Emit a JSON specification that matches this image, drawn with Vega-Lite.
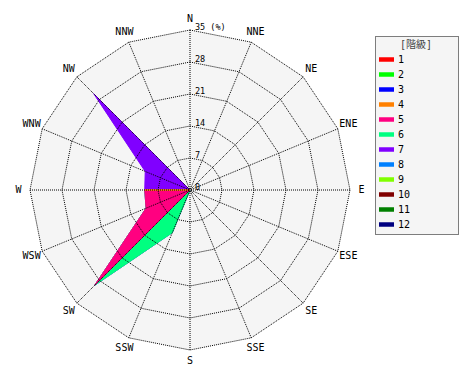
{
  "$schema": "https://vega.github.io/schema/vega-lite/v6.json",
  "width": 320,
  "height": 320,
  "autosize": {"type": "none"},
  "padding": {"left": 30, "top": 30, "right": 120, "bottom": 30},
  "background": "#ffffff",
  "config": {
    "view": {"stroke": null},
    "legend": {
      "orient": "none",
      "legendX": 345,
      "legendY": 6,
      "padding": 4,
      "strokeColor": "#000000",
      "strokeDash": [1, 1],
      "fillColor": "#f5f5f5",
      "titleFont": "DejaVu Sans Mono, Noto Sans CJK JP",
      "titleFontSize": 10,
      "titleFontWeight": "normal",
      "titleColor": "#444444",
      "titlePadding": 2,
      "labelFont": "DejaVu Sans Mono",
      "labelFontSize": 10,
      "labelColor": "#000000",
      "labelOffset": 4,
      "symbolType": "M-1,-0.3H1V0.3H-1Z",
      "symbolSize": 225,
      "symbolStrokeWidth": 0,
      "symbolOpacity": 1,
      "rowPadding": 2
    }
  },
  "datasets": {
    "dirs": [
      {"dir": "N", "deg": 0}, {"dir": "NNE", "deg": 22.5}, {"dir": "NE", "deg": 45}, {"dir": "ENE", "deg": 67.5},
      {"dir": "E", "deg": 90}, {"dir": "ESE", "deg": 112.5}, {"dir": "SE", "deg": 135}, {"dir": "SSE", "deg": 157.5},
      {"dir": "S", "deg": 180}, {"dir": "SSW", "deg": 202.5}, {"dir": "SW", "deg": 225}, {"dir": "WSW", "deg": 247.5},
      {"dir": "W", "deg": 270}, {"dir": "WNW", "deg": 292.5}, {"dir": "NW", "deg": 315}, {"dir": "NNW", "deg": 337.5}
    ],
    "rings": [
      {"r": 7, "deg": [0, 22.5, 45, 67.5, 90, 112.5, 135, 157.5, 180, 202.5, 225, 247.5, 270, 292.5, 315, 337.5]},
      {"r": 14, "deg": [0, 22.5, 45, 67.5, 90, 112.5, 135, 157.5, 180, 202.5, 225, 247.5, 270, 292.5, 315, 337.5]},
      {"r": 21, "deg": [0, 22.5, 45, 67.5, 90, 112.5, 135, 157.5, 180, 202.5, 225, 247.5, 270, 292.5, 315, 337.5]},
      {"r": 28, "deg": [0, 22.5, 45, 67.5, 90, 112.5, 135, 157.5, 180, 202.5, 225, 247.5, 270, 292.5, 315, 337.5]},
      {"r": 35, "deg": [0, 22.5, 45, 67.5, 90, 112.5, 135, 157.5, 180, 202.5, 225, 247.5, 270, 292.5, 315, 337.5]}
    ],
    "ticks": [
      {"r": 0, "t": "0"}, {"r": 7, "t": "7"}, {"r": 14, "t": "14"}, {"r": 21, "t": "21"}, {"r": 28, "t": "28"}, {"r": 35, "t": "35 (%)"}
    ],
    "wind": [
      {"dir": "N", "deg": 0, "cls": 4, "pct": 0}, {"dir": "NNE", "deg": 22.5, "cls": 4, "pct": 0},
      {"dir": "NE", "deg": 45, "cls": 4, "pct": 0}, {"dir": "ENE", "deg": 67.5, "cls": 4, "pct": 0},
      {"dir": "E", "deg": 90, "cls": 4, "pct": 0}, {"dir": "ESE", "deg": 112.5, "cls": 4, "pct": 0},
      {"dir": "SE", "deg": 135, "cls": 4, "pct": 0}, {"dir": "SSE", "deg": 157.5, "cls": 4, "pct": 0},
      {"dir": "S", "deg": 180, "cls": 4, "pct": 0}, {"dir": "SSW", "deg": 202.5, "cls": 4, "pct": 0},
      {"dir": "SW", "deg": 225, "cls": 4, "pct": 0}, {"dir": "WSW", "deg": 247.5, "cls": 4, "pct": 0},
      {"dir": "W", "deg": 270, "cls": 4, "pct": 9.9}, {"dir": "WNW", "deg": 292.5, "cls": 4, "pct": 0},
      {"dir": "NW", "deg": 315, "cls": 4, "pct": 0}, {"dir": "NNW", "deg": 337.5, "cls": 4, "pct": 0},

      {"dir": "N", "deg": 0, "cls": 5, "pct": 0}, {"dir": "NNE", "deg": 22.5, "cls": 5, "pct": 0},
      {"dir": "NE", "deg": 45, "cls": 5, "pct": 0}, {"dir": "ENE", "deg": 67.5, "cls": 5, "pct": 0},
      {"dir": "E", "deg": 90, "cls": 5, "pct": 0}, {"dir": "ESE", "deg": 112.5, "cls": 5, "pct": 0},
      {"dir": "SE", "deg": 135, "cls": 5, "pct": 0}, {"dir": "SSE", "deg": 157.5, "cls": 5, "pct": 0},
      {"dir": "S", "deg": 180, "cls": 5, "pct": 0}, {"dir": "SSW", "deg": 202.5, "cls": 5, "pct": 0},
      {"dir": "SW", "deg": 225, "cls": 5, "pct": 29.5}, {"dir": "WSW", "deg": 247.5, "cls": 5, "pct": 10.4},
      {"dir": "W", "deg": 270, "cls": 5, "pct": 0}, {"dir": "WNW", "deg": 292.5, "cls": 5, "pct": 0},
      {"dir": "NW", "deg": 315, "cls": 5, "pct": 0}, {"dir": "NNW", "deg": 337.5, "cls": 5, "pct": 0},

      {"dir": "N", "deg": 0, "cls": 6, "pct": 0}, {"dir": "NNE", "deg": 22.5, "cls": 6, "pct": 0},
      {"dir": "NE", "deg": 45, "cls": 6, "pct": 0}, {"dir": "ENE", "deg": 67.5, "cls": 6, "pct": 0},
      {"dir": "E", "deg": 90, "cls": 6, "pct": 0}, {"dir": "ESE", "deg": 112.5, "cls": 6, "pct": 0},
      {"dir": "SE", "deg": 135, "cls": 6, "pct": 0}, {"dir": "SSE", "deg": 157.5, "cls": 6, "pct": 0},
      {"dir": "S", "deg": 180, "cls": 6, "pct": 0}, {"dir": "SSW", "deg": 202.5, "cls": 6, "pct": 10.1},
      {"dir": "SW", "deg": 225, "cls": 6, "pct": 0}, {"dir": "WSW", "deg": 247.5, "cls": 6, "pct": 0},
      {"dir": "W", "deg": 270, "cls": 6, "pct": 0}, {"dir": "WNW", "deg": 292.5, "cls": 6, "pct": 0},
      {"dir": "NW", "deg": 315, "cls": 6, "pct": 0}, {"dir": "NNW", "deg": 337.5, "cls": 6, "pct": 0},

      {"dir": "N", "deg": 0, "cls": 7, "pct": 0}, {"dir": "NNE", "deg": 22.5, "cls": 7, "pct": 0},
      {"dir": "NE", "deg": 45, "cls": 7, "pct": 0}, {"dir": "ENE", "deg": 67.5, "cls": 7, "pct": 0},
      {"dir": "E", "deg": 90, "cls": 7, "pct": 0}, {"dir": "ESE", "deg": 112.5, "cls": 7, "pct": 0},
      {"dir": "SE", "deg": 135, "cls": 7, "pct": 0}, {"dir": "SSE", "deg": 157.5, "cls": 7, "pct": 0},
      {"dir": "S", "deg": 180, "cls": 7, "pct": 0}, {"dir": "SSW", "deg": 202.5, "cls": 7, "pct": 0},
      {"dir": "SW", "deg": 225, "cls": 7, "pct": 0}, {"dir": "WSW", "deg": 247.5, "cls": 7, "pct": 0},
      {"dir": "W", "deg": 270, "cls": 7, "pct": 0}, {"dir": "WNW", "deg": 292.5, "cls": 7, "pct": 10.6},
      {"dir": "NW", "deg": 315, "cls": 7, "pct": 29.8}, {"dir": "NNW", "deg": 337.5, "cls": 7, "pct": 0}
    ]
  },
  "layer": [
    {
      "data": {"name": "rings"},
      "transform": [
        {"filter": "datum.r == 35"},
        {"flatten": ["deg"]},
        {"calculate": "datum.r * sin(datum.deg * PI / 180)", "as": "x"},
        {"calculate": "datum.r * cos(datum.deg * PI / 180)", "as": "y"}
      ],
      "mark": {"type": "line", "interpolate": "linear-closed", "fill": "#f5f5f5", "stroke": null, "strokeWidth": 0},
      "encoding": {
        "x": {"field": "x", "type": "quantitative", "scale": {"domain": [-35, 35], "nice": false, "zero": false}, "axis": null},
        "y": {"field": "y", "type": "quantitative", "scale": {"domain": [-35, 35], "nice": false, "zero": false}, "axis": null},
        "order": {"field": "deg", "type": "quantitative"}
      }
    },
    {
      "data": {"name": "wind"},
      "transform": [
        {"window": [{"op": "sum", "field": "pct", "as": "cum"}], "groupby": ["deg"], "sort": [{"field": "cls", "order": "ascending"}], "frame": [null, 0]},
        {"calculate": "datum.cum * sin(datum.deg * PI / 180)", "as": "x"},
        {"calculate": "datum.cum * cos(datum.deg * PI / 180)", "as": "y"}
      ],
      "encoding": {
        "x": {"field": "x", "type": "quantitative", "scale": {"domain": [-35, 35], "nice": false, "zero": false}, "axis": null},
        "y": {"field": "y", "type": "quantitative", "scale": {"domain": [-35, 35], "nice": false, "zero": false}, "axis": null},
        "order": {"field": "deg", "type": "quantitative"},
        "fill": {
          "field": "cls", "type": "nominal",
          "scale": {"domain": [1, 2, 3, 4, 5, 6, 7, 8, 9, 10, 11, 12], "range": ["#ff0000", "#00ff00", "#0000ff", "#ff8000", "#ff0080", "#00ff80", "#8000ff", "#0080ff", "#80ff00", "#800000", "#008000", "#000080"]},
          "legend": {"title": "\u2800\u2800\u2800[階級]\u2800\u2800\u2800"}
        },
        "stroke": {
          "field": "cls", "type": "nominal",
          "scale": {"domain": [1, 2, 3, 4, 5, 6, 7, 8, 9, 10, 11, 12], "range": ["#ff0000", "#00ff00", "#0000ff", "#ff8000", "#ff0080", "#00ff80", "#8000ff", "#0080ff", "#80ff00", "#800000", "#008000", "#000080"]},
          "legend": null
        }
      },
      "layer": [
        {"transform": [{"filter": "datum.cls == 7"}], "mark": {"type": "line", "interpolate": "linear-closed", "strokeWidth": 1}},
        {"transform": [{"filter": "datum.cls == 6"}], "mark": {"type": "line", "interpolate": "linear-closed", "strokeWidth": 1}},
        {"transform": [{"filter": "datum.cls == 5"}], "mark": {"type": "line", "interpolate": "linear-closed", "strokeWidth": 1}},
        {"transform": [{"filter": "datum.cls == 4"}], "mark": {"type": "line", "interpolate": "linear-closed", "strokeWidth": 1}}
      ]
    },
    {
      "data": {"name": "rings"},
      "transform": [
        {"flatten": ["deg"]},
        {"calculate": "datum.r * sin(datum.deg * PI / 180)", "as": "x"},
        {"calculate": "datum.r * cos(datum.deg * PI / 180)", "as": "y"}
      ],
      "mark": {"type": "line", "interpolate": "linear-closed", "stroke": "#000000", "strokeWidth": 1, "strokeDash": [1, 1]},
      "encoding": {
        "x": {"field": "x", "type": "quantitative", "scale": {"domain": [-35, 35], "nice": false, "zero": false}, "axis": null},
        "y": {"field": "y", "type": "quantitative", "scale": {"domain": [-35, 35], "nice": false, "zero": false}, "axis": null},
        "order": {"field": "deg", "type": "quantitative"},
        "detail": {"field": "r", "type": "nominal"}
      }
    },
    {
      "data": {"name": "dirs"},
      "transform": [
        {"calculate": "35 * sin(datum.deg * PI / 180)", "as": "x"},
        {"calculate": "35 * cos(datum.deg * PI / 180)", "as": "y"}
      ],
      "mark": {"type": "rule", "stroke": "#000000", "strokeWidth": 1, "strokeDash": [1, 1]},
      "encoding": {
        "x": {"field": "x", "type": "quantitative", "scale": {"domain": [-35, 35], "nice": false, "zero": false}, "axis": null},
        "y": {"field": "y", "type": "quantitative", "scale": {"domain": [-35, 35], "nice": false, "zero": false}, "axis": null},
        "x2": {"datum": 0},
        "y2": {"datum": 0}
      }
    },
    {
      "data": {"name": "ticks"},
      "mark": {"type": "text", "align": "left", "baseline": "alphabetic", "dx": 5, "dy": 0, "font": "DejaVu Sans Mono", "fontSize": 8.5, "color": "#000000"},
      "encoding": {
        "x": {"datum": 0, "type": "quantitative", "scale": {"domain": [-35, 35], "nice": false, "zero": false}, "axis": null},
        "y": {"field": "r", "type": "quantitative", "scale": {"domain": [-35, 35], "nice": false, "zero": false}, "axis": null},
        "text": {"field": "t"}
      }
    },
    {
      "data": {"name": "dirs"},
      "transform": [
        {"calculate": "37.5 * sin(datum.deg * PI / 180)", "as": "x"},
        {"calculate": "37.5 * cos(datum.deg * PI / 180)", "as": "y"}
      ],
      "mark": {"type": "text", "align": "center", "baseline": "middle", "font": "DejaVu Sans Mono", "fontSize": 10, "color": "#000000"},
      "encoding": {
        "x": {"field": "x", "type": "quantitative", "scale": {"domain": [-35, 35], "nice": false, "zero": false}, "axis": null},
        "y": {"field": "y", "type": "quantitative", "scale": {"domain": [-35, 35], "nice": false, "zero": false}, "axis": null},
        "text": {"field": "dir"}
      }
    }
  ]
}
